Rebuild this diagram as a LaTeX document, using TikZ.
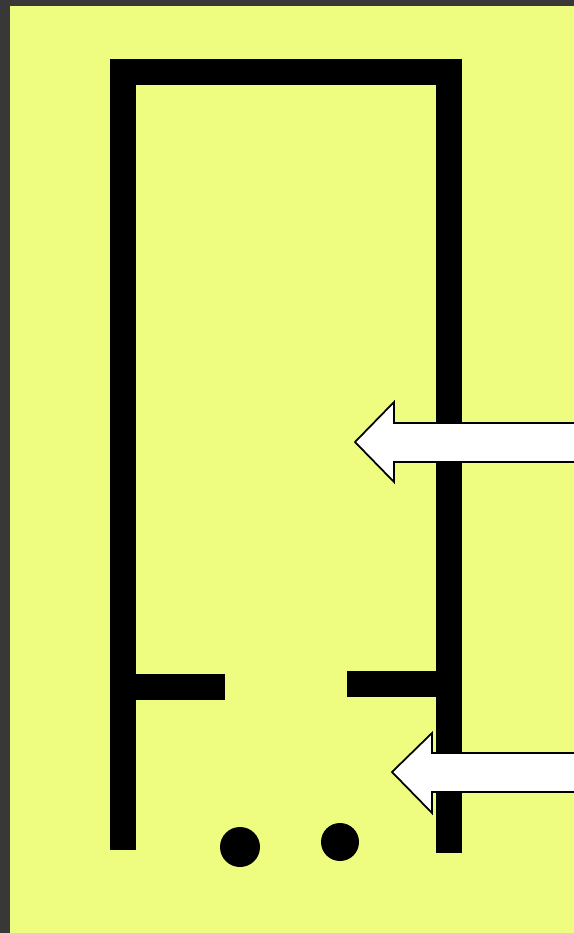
\documentclass[tikz,border=0pt]{standalone}
\usepackage{tikz}
\usetikzlibrary{arrows.meta, positioning}

\definecolor{bgyellow}{RGB}{238,252,128}
\definecolor{framegray}{RGB}{56,56,56}

\begin{document}
\begin{tikzpicture}[x=0.02cm, y=-0.02cm,
    wall/.style={line width=0.52cm, black, line join=miter},
    pointer/.style={fill=white, draw=black, line width=1pt, line join=miter}]
    \useasboundingbox (0,0) rectangle (574,933);
    \clip (0,0) rectangle (574,933);
    \fill[framegray] (0,0) rectangle (574,933);
    \fill[bgyellow] (10,6) rectangle (574,933);
    % outline
    \draw[wall] (123,850) -- (123,72) -- (449,72) -- (449,853);
    \draw[wall] (123,687) -- (225,687);
    \draw[wall] (347,684) -- (449,684);
    \fill (240,847) circle (20);
    \fill (340,842) circle (19);
    % arrows
    \draw[pointer] (355,442) -- (394,402) -- (394,423) -- (590,423) -- (590,462) -- (394,462) -- (394,482) -- cycle;
    \draw[pointer] (392,772) -- (432,733) -- (432,753) -- (590,753) -- (590,792) -- (432,792) -- (432,813) -- cycle;
\end{tikzpicture}
\end{document}
